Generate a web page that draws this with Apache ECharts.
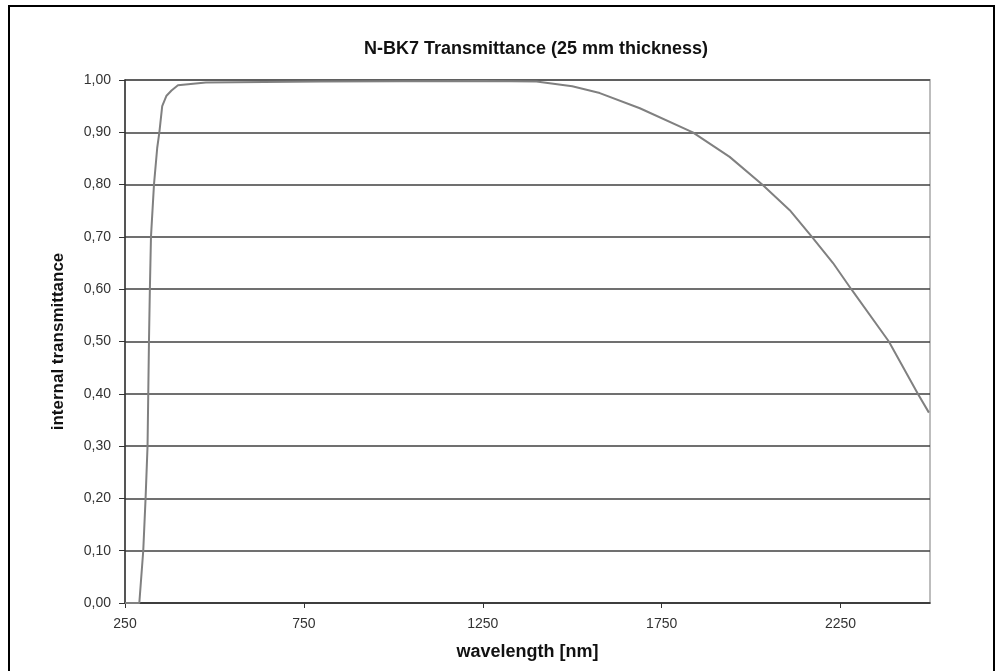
<!DOCTYPE html>
<html>
<head>
<meta charset="utf-8">
<script src="https://cdn.jsdelivr.net/npm/echarts@6/dist/echarts.min.js"></script>
<style>
  html, body { margin: 0; padding: 0; background: #fff; }
  #frame { position: absolute; left: 8px; top: 5px; width: 983px; height: 700px; border: 2px solid #000; }
  #chart { position: absolute; left: 0; top: 0; width: 1001px; height: 671px; }
</style>
</head>
<body>
<div id="frame"></div>
<div id="chart"></div>
<script>
// wavelength [nm] and internal transmittance
var wavelength = [250, 290, 301, 307.5, 313, 315, 317, 319.5, 322.6, 331, 340, 346, 354, 366, 380, 398, 476, 800, 1250, 1400, 1500, 1577, 1689, 1837, 1940, 2031, 2108, 2170, 2229, 2280, 2385, 2466, 2497];
var transmittance = [0, 0, 0.10, 0.20, 0.30, 0.40, 0.50, 0.60, 0.70, 0.80, 0.87, 0.90, 0.95, 0.97, 0.98, 0.99, 0.995, 0.997, 0.998, 0.997, 0.988, 0.975, 0.946, 0.90, 0.853, 0.80, 0.751, 0.70, 0.65, 0.60, 0.50, 0.40, 0.364];
var xTicks = [250, 750, 1250, 1750, 2250];

var pts = [];
for (var i = 0; i < wavelength.length; i++) {
  pts.push([wavelength[i], transmittance[i]]);
}

var myChart = echarts.init(document.getElementById('chart'));
var option = {
  animation: false,
  title: {
    text: 'N-BK7 Transmittance (25 mm thickness)',
    left: 531,
    top: 35,
    textAlign: 'center',
    textStyle: { fontFamily: 'Liberation Sans', fontWeight: 'bold', fontSize: 18, color: '#111' }
  },
  grid: {
    left: 125, right: 71, top: 80, bottom: 68,
    show: true,
    borderColor: '#bdbdbd',
    borderWidth: 2
  },
  xAxis: {
    type: 'value',
    min: 250,
    max: 2500,
    name: 'wavelength [nm]',
    nameLocation: 'middle',
    nameGap: 40,
    nameTextStyle: { fontFamily: 'Liberation Sans', fontWeight: 'bold', fontSize: 18, color: '#111' },
    axisLine: { lineStyle: { color: '#333', width: 1.5 } },
    axisTick: { show: true, length: 5, customValues: xTicks, lineStyle: { color: '#333' } },
    axisLabel: {
      customValues: xTicks, margin: 14,
      fontFamily: 'Liberation Sans', fontSize: 14, color: '#333',
      formatter: function (v) { return String(v); }
    },
    splitLine: { show: false }
  },
  yAxis: {
    type: 'value',
    min: 0,
    max: 1,
    interval: 0.1,
    name: 'internal transmittance',
    nameLocation: 'middle',
    nameGap: 58,
    nameTextStyle: { fontFamily: 'Liberation Sans', fontWeight: 'bold', fontSize: 17, color: '#111' },
    axisLine: { show: true, lineStyle: { color: '#333', width: 1.5 } },
    axisTick: { show: true, length: 6, lineStyle: { color: '#333' } },
    axisLabel: {
      margin: 14,
      fontFamily: 'Liberation Sans', fontSize: 14, color: '#333',
      formatter: function (v) { return v.toFixed(2).replace('.', ','); }
    },
    splitLine: { show: true, lineStyle: { color: '#404040', width: 1.5 } }
  },
  series: [{
    type: 'line',
    data: pts,
    showSymbol: false,
    lineStyle: { color: '#808080', width: 2 },
    z: 10
  }]
};
myChart.setOption(option);
</script>
</body>
</html>
